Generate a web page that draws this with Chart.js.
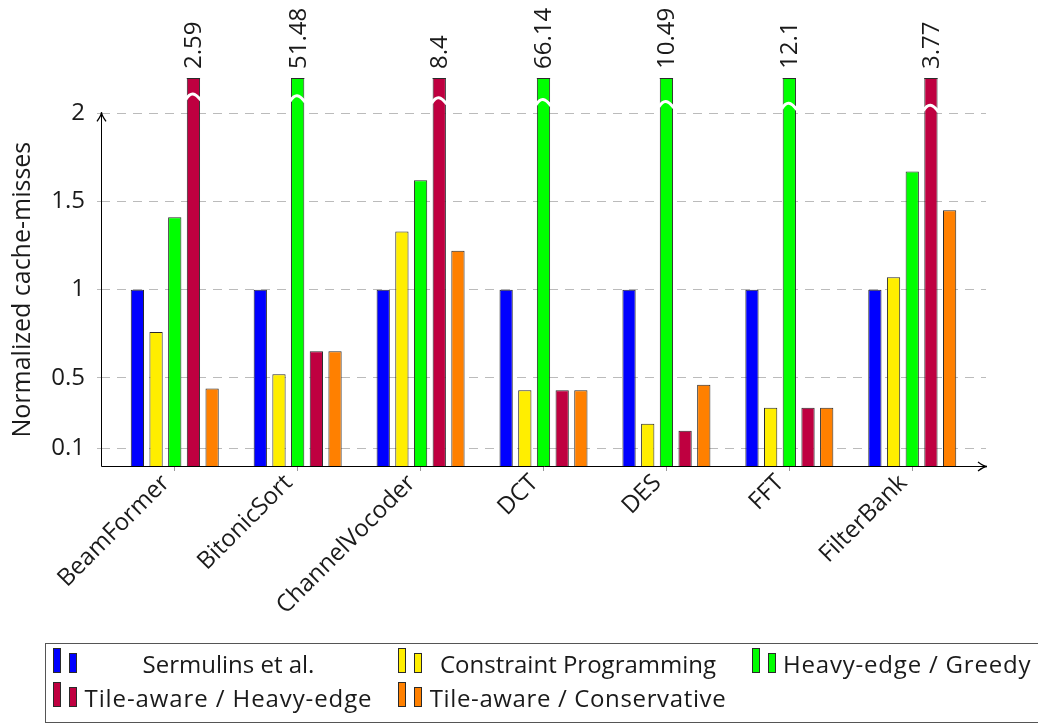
<!DOCTYPE html>
<html>
<head>
<meta charset="utf-8">
<title>Normalized cache-misses</title>
<script src="https://cdn.jsdelivr.net/npm/chart.js@4.4.1/dist/chart.umd.min.js"></script>
<style>
  html, body { margin: 0; padding: 0; background: #fff; }
  #wrap { width: 1038px; height: 724px; position: relative; }
</style>
</head>
<body>
<div id="wrap"><canvas id="chart" width="1038" height="724"></canvas></div>
<script>
// Benchmarks on the x axis
const categories = ['BeamFormer', 'BitonicSort', 'ChannelVocoder', 'DCT', 'DES', 'FFT', 'FilterBank'];

// Normalized cache-misses per scheme (values above the axis limit are printed on top)
const sermulins    = [1.00, 1.00, 1.00, 1.00, 1.00, 1.00, 1.00];
const constraint   = [0.76, 0.52, 1.33, 0.43, 0.24, 0.33, 1.07];
const heavyGreedy  = [1.41, 51.48, 1.62, 66.14, 10.49, 12.1, 1.67];
const tileHeavy    = [2.59, 0.65, 8.4, 0.43, 0.20, 0.33, 3.77];
const tileConserv  = [0.44, 0.65, 1.22, 0.43, 0.46, 0.33, 1.45];

const seriesNames = ['Sermulins et al.', 'Constraint Programming', 'Heavy-edge / Greedy',
                     'Tile-aware / Heavy-edge', 'Tile-aware / Conservative'];
const seriesColors = ['#0000ff', '#ffee00', '#00ff00', '#bf0040', '#ff8000'];

// Y axis
const yTicks = [0.1, 0.5, 1, 1.5, 2];
const yMax = 2.2;

const FONT = '"Open Sans", "Noto Sans", sans-serif';
const TEXT = '#1a1a1a';

const allSeries = [sermulins, constraint, heavyGreedy, tileHeavy, tileConserv];

const datasets = allSeries.map((vals, i) => ({
  label: seriesNames[i],
  data: vals.map((v, k) => ({ x: k, y: v })),
  backgroundColor: seriesColors[i],
  borderColor: '#2a2a2a',
  borderWidth: 1,
  borderSkipped: 'bottom',
  categoryPercentage: 0.76,
  barPercentage: 0.71,
  clip: 0
}));

// Axis lines with arrow heads, broken-bar marks, out-of-range labels, y title and legend
const decorations = {
  id: 'decorations',
  afterDatasetsDraw(chart) {
    const { ctx, chartArea: a, scales: { y } } = chart;
    ctx.save();
    chart.data.datasets.forEach((ds, di) => {
      const meta = chart.getDatasetMeta(di);
      meta.data.forEach((bar, k) => {
        const v = ds.data[k].y;
        if (v <= yMax) return;
        const half = bar.width / 2;
        // top edge of the clipped bar
        ctx.strokeStyle = '#2a2a2a';
        ctx.lineWidth = 1;
        ctx.beginPath();
        ctx.moveTo(bar.x - half, a.top + 0.5);
        ctx.lineTo(bar.x + half, a.top + 0.5);
        ctx.stroke();
        // break mark
        const yc = y.getPixelForValue(2.09 - 0.0107 * k);
        ctx.strokeStyle = '#fff';
        ctx.lineWidth = 3;
        ctx.beginPath();
        ctx.moveTo(bar.x - half - 1, yc + 2);
        ctx.bezierCurveTo(bar.x - half * 0.4, yc - 6, bar.x + half * 0.2, yc - 5, bar.x + half + 1, yc + 3);
        ctx.stroke();
        // value label
        ctx.save();
        ctx.translate(bar.x, a.top - 9);
        ctx.rotate(-Math.PI / 2);
        ctx.fillStyle = TEXT;
        ctx.font = '24px ' + FONT;
        ctx.textAlign = 'left';
        ctx.textBaseline = 'middle';
        ctx.fillText(String(v), 0, 1);
        ctx.restore();
      });
    });
    ctx.restore();
  },
  afterDraw(chart) {
    const { ctx, chartArea: a, scales: { y } } = chart;
    ctx.save();
    // axes
    ctx.strokeStyle = '#000';
    ctx.lineWidth = 1;
    const x0 = a.left + 0.5, y0 = Math.round(a.bottom) + 0.5;
    const yTop = y.getPixelForValue(2) - 1;
    ctx.beginPath();
    ctx.moveTo(x0, y0);
    ctx.lineTo(x0, yTop);
    ctx.moveTo(x0, y0);
    ctx.lineTo(a.right + 1, y0);
    ctx.stroke();
    const arrow = (tx, ty, dx, dy) => {
      const px = -dy, py = dx;
      ctx.beginPath();
      ctx.moveTo(tx - dx * 9 + px * 4.5, ty - dy * 9 + py * 4.5);
      ctx.quadraticCurveTo(tx - dx * 3, ty - dy * 3, tx, ty);
      ctx.quadraticCurveTo(tx - dx * 3, ty - dy * 3, tx - dx * 9 - px * 4.5, ty - dy * 9 - py * 4.5);
      ctx.stroke();
    };
    ctx.lineWidth = 1.3;
    arrow(x0, yTop, 0, -1);
    arrow(a.right + 1, y0, 1, 0);

    // y axis title
    ctx.save();
    ctx.translate(23, (y.getPixelForValue(0) + y.getPixelForValue(2)) / 2);
    ctx.rotate(-Math.PI / 2);
    ctx.font = '25px ' + FONT;
    ctx.fillStyle = TEXT;
    ctx.textAlign = 'center';
    ctx.textBaseline = 'middle';
    ctx.fillText('Normalized cache-misses', 0, 0);
    ctx.restore();

    // legend
    ctx.font = '24px ' + FONT;
    const boxL = 45.5, boxT = 643.5, boxB = 722.5;
    ctx.strokeStyle = '#555';
    ctx.lineWidth = 1;
    ctx.strokeRect(boxL, boxT, 1100, boxB - boxT);
    const rows = [[0, 1, 2], [3, 4]];
    const rowBase = [673, 707];
    // each column: icon position, text area start and end
    const cols = [
      { icon: 53, text0: 85, text1: 372, center: true },
      { icon: 398, text0: 430, text1: 726, center: true },
      { icon: 752, text0: 783, text1: 1030, center: false }
    ];
    ctx.textBaseline = 'alphabetic';
    rows.forEach((r, ri) => {
      r.forEach((si, ci) => {
        const col = cols[ci];
        const ix = col.icon;
        const base = rowBase[ri];
        ctx.fillStyle = seriesColors[si];
        ctx.strokeStyle = '#2a2a2a';
        ctx.fillRect(ix, base - 25, 8, 25);
        ctx.strokeRect(ix + 0.5, base - 24.5, 7, 24);
        ctx.fillRect(ix + 16, base - 20, 8, 20);
        ctx.strokeRect(ix + 16.5, base - 19.5, 7, 19);
        ctx.fillStyle = TEXT;
        const name = seriesNames[si];
        const w = ctx.measureText(name).width;
        const span = col.text1 - col.text0;
        if (col.center) {
          // spread the text slightly so it fills its column like the wider dashes of the typeset legend
          const spacing = Math.max(0, Math.min(1.2, (span - w) / Math.max(1, name.length - 1)));
          const hasDash = name.includes('-');
          ctx.letterSpacing = hasDash ? spacing + 'px' : '0px';
          const w2 = ctx.measureText(name).width;
          ctx.textAlign = 'left';
          ctx.fillText(name, col.text0 + (span - w2) / 2, base);
        } else {
          ctx.letterSpacing = '0.8px';
          ctx.textAlign = 'left';
          ctx.fillText(name, col.text0, base);
        }
        ctx.letterSpacing = '0px';
      });
    });
    ctx.restore();
  }
};

new Chart(document.getElementById('chart'), {
  type: 'bar',
  data: { datasets },
  options: {
    responsive: false,
    animation: false,
    events: [],
    layout: { padding: { top: 78, right: 52, bottom: 0, left: 0 } },
    plugins: { legend: { display: false }, tooltip: { enabled: false } },
    scales: {
      x: {
        type: 'linear',
        offset: false,
        min: -0.6,
        max: 6.6,
        afterBuildTicks(scale) { scale.ticks = categories.map((c, i) => ({ value: i })); },
        afterFit(scale) { scale.height = 258; },
        ticks: {
          autoSkip: false,
          minRotation: 45,
          maxRotation: 45,
          padding: -2,
          labelOffset: -9,
          color: TEXT,
          font: { family: FONT, size: 24 },
          callback: (v) => categories[v]
        },
        grid: { offset: false, drawOnChartArea: false, drawTicks: true, tickLength: 5, color: '#999' },
        border: { display: false }
      },
      y: {
        min: 0,
        max: yMax,
        afterBuildTicks(scale) { scale.ticks = yTicks.map(v => ({ value: v })); },
        afterFit(scale) { scale.width = 101; },
        ticks: {
          padding: 12,
          color: TEXT,
          font: { family: FONT, size: 24 },
          callback: (v) => String(v)
        },
        grid: { color: '#bbb', tickLength: 4, lineWidth: 1 },
        border: { display: false, dash: [9, 7] }
      }
    }
  },
  plugins: [decorations]
});
</script>
</body>
</html>
